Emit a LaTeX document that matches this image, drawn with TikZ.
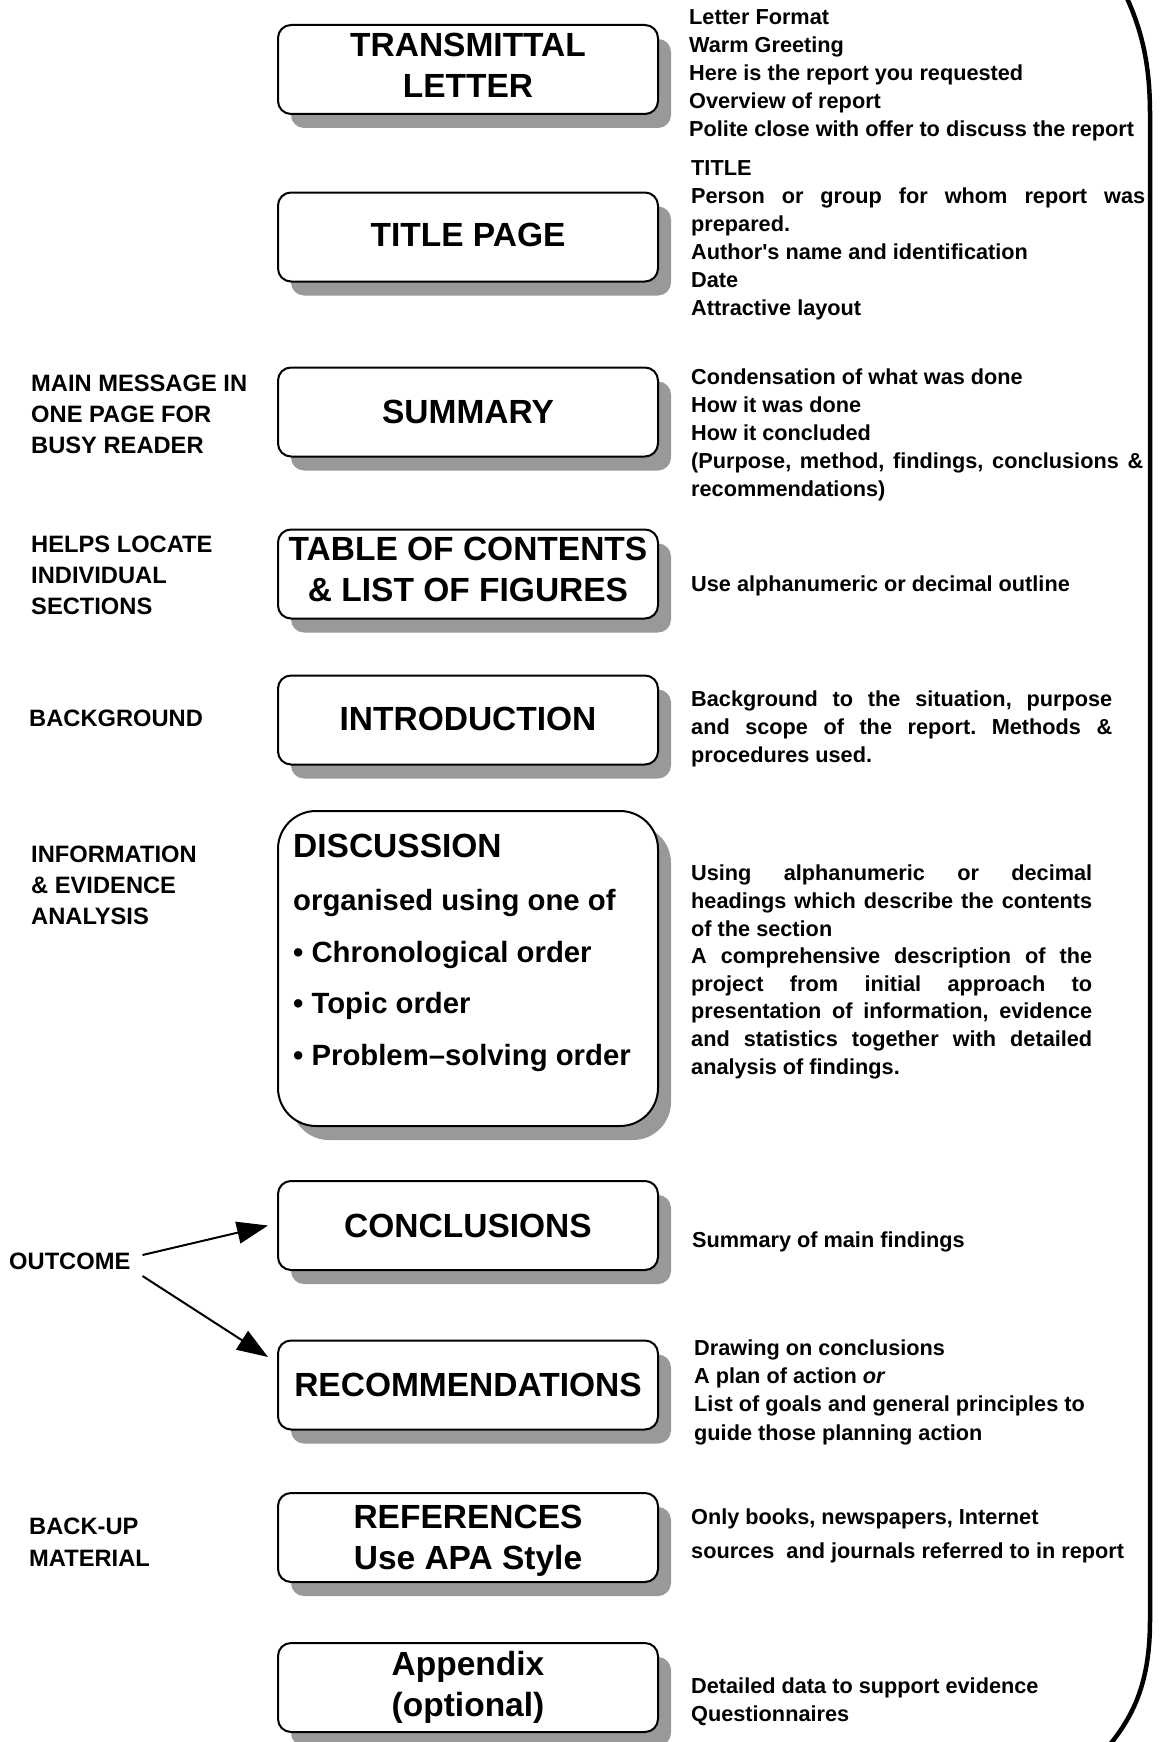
\documentclass[tikz,border=0pt]{standalone}
\usepackage{fontspec}
\setmainfont{Liberation Sans}
\usetikzlibrary{shadows,arrows.meta,calc}
\frenchspacing

\tikzset{
  secbox/.style={draw=black, line width=2pt, fill=white, rounded corners=13pt,
    minimum width=380pt, minimum height=89pt, align=center, inner sep=0pt,
    font=\fontsize{33.5}{41}\selectfont\bfseries,
    drop shadow={shadow xshift=13pt, shadow yshift=-14pt, fill=black!40, opacity=1}},
  disctitle/.style={anchor=base west, inner sep=0pt, font=\fontsize{33.5}{41}\selectfont\bfseries},
  discitem/.style={anchor=base west, inner sep=0pt, font=\fontsize{29.3}{36}\selectfont\bfseries},
  desc/.style={anchor=north west, inner sep=0pt, align=left, font=\fontsize{21.7}{28}\selectfont\bfseries\frenchspacing},
  sidelabel/.style={anchor=north west, inner sep=0pt, align=left, font=\fontsize{23.7}{31}\selectfont\bfseries},
  arr/.style={line width=2pt, -{Triangle[length=31pt,width=22pt]}},
  bracket/.style={line width=4.5pt}
}

\begin{document}
\begin{tikzpicture}[x=1pt,y=-1pt]
\useasboundingbox (0,0) rectangle (1159,1742);
\fill[white] (0,0) rectangle (1159,1742);

% section boxes
\node[secbox] (trans) at (468,69.5) {TRANSMITTAL\\LETTER\rule[-9pt]{0pt}{9pt}};
\node[secbox] (title) at (468,237) {TITLE PAGE\rule[-4pt]{0pt}{4pt}};
\node[secbox] (summ) at (468,412) {SUMMARY};
\node[secbox] (toc) at (468,574) {TABLE OF CONTENTS\\\& LIST OF FIGURES\rule[-10pt]{0pt}{10pt}};
\node[secbox] (intro) at (468,720) {INTRODUCTION\rule[-3pt]{0pt}{3pt}};
\node[secbox, minimum height=315pt, rounded corners=38pt] (disc) at (468,968.5) {};
\node[secbox] (concl) at (468,1225.5) {CONCLUSIONS};
\node[secbox] (recom) at (468,1385) {RECOMMENDATIONS};
\node[secbox] (refs) at (468,1537.5) {\rule{0pt}{30pt}REFERENCES\\Use APA Style};
\node[secbox] (appx) at (468,1687.5) {Appendix\\(optional)};

% discussion box content
\node[disctitle] (dhead) at (293,857) {DISCUSSION};
\node[discitem] (dorg) at (293,910) {organised using one of};
\node[discitem] (dchr) at (293,962) {\textbullet\ Chronological order};
\node[discitem] (dtop) at (293,1013.5) {\textbullet\ Topic order};
\node[discitem] (dprob) at (293,1065) {\textbullet\ Problem--solving order};

% right-hand descriptions
\node[desc] (transd) at (689,4.4) {\strut Letter Format\\Warm Greeting\\Here is the report you requested\\Overview of report\\Polite close with offer to discuss the report};
\node[desc] (titled) at (691,155.4) {\strut TITLE\\\makebox[454pt][s]{Person or group for whom report was}\\prepared.\\Author\textquotesingle s name and identification\\Date\\Attractive layout};
\node[desc] (summd) at (691,364.4) {\strut Condensation of what was done\\How it was done\\How it concluded\\\makebox[452pt][s]{(Purpose, method, findings, conclusions \&}\\recommendations)};
\node[desc] (tocd) at (691,571.4) {\strut Use alphanumeric or decimal outline};
\node[desc] (introd) at (691,686.4) {\strut\makebox[421pt][s]{Background to the situation, purpose}\\\makebox[421pt][s]{and scope of the report. Methods \&}\\procedures used.};
\node[desc, font=\fontsize{21.7}{27.6}\selectfont\bfseries\frenchspacing] (discd) at (691,861.4) {\strut\makebox[401pt][s]{Using alphanumeric or decimal}\\\makebox[401pt][s]{headings which describe the contents}\\of the section\\\makebox[401pt][s]{A comprehensive description of the}\\\makebox[401pt][s]{project from initial approach to}\\\makebox[401pt][s]{presentation of information, evidence}\\\makebox[401pt][s]{and statistics together with detailed}\\analysis of findings.};
\node[desc] (concld) at (692,1227.4) {\strut Summary of main findings};
\node[desc, font=\fontsize{21.7}{28.3}\selectfont\bfseries\frenchspacing] (recomd) at (694,1335.2) {\strut Drawing on conclusions\\A plan of action \textit{or}\\List of goals and general principles to\\guide those planning action};
\node[desc, font=\fontsize{21.7}{34}\selectfont\bfseries\frenchspacing] (refsd) at (691,1500.2) {\strut Only books, newspapers, Internet\\sources\ \ and journals referred to in report};
\node[desc] (appxd) at (691,1673.4) {\strut Detailed data to support evidence\\Questionnaires};

% left-hand labels
\node[sidelabel] (lsumm) at (31,369.3) {\strut MAIN MESSAGE IN\\ONE PAGE FOR\\BUSY READER};
\node[sidelabel] (ltoc) at (31,530.3) {\strut HELPS LOCATE\\INDIVIDUAL\\SECTIONS};
\node[sidelabel] (lintro) at (29,704.8) {\strut BACKGROUND};
\node[sidelabel] (ldisc) at (31,840.3) {\strut INFORMATION\\\& EVIDENCE\\ANALYSIS};
\node[sidelabel, font=\fontsize{23.7}{32}\selectfont\bfseries] (lrefs) at (29,1511.6) {\strut BACK-UP\\MATERIAL};
\node[anchor=west, inner sep=0pt, font=\fontsize{23.7}{31}\selectfont\bfseries] (outcome) at (9,1261) {OUTCOME};

% arrows
\draw[arr] ([xshift=12pt,yshift=6pt]outcome.east) -- ([xshift=-9pt]concl.west);
\draw[arr] ([xshift=12pt,yshift=-15pt]outcome.east) -- ([xshift=-9pt,yshift=28pt]recom.west);

% right bracket
\draw[bracket] (1126,-4) .. controls (1144,35) and (1150,70) .. (1150,115) -- (1150,1620) .. controls (1150,1680) and (1135,1715) .. (1107,1748);
\end{tikzpicture}
\end{document}
